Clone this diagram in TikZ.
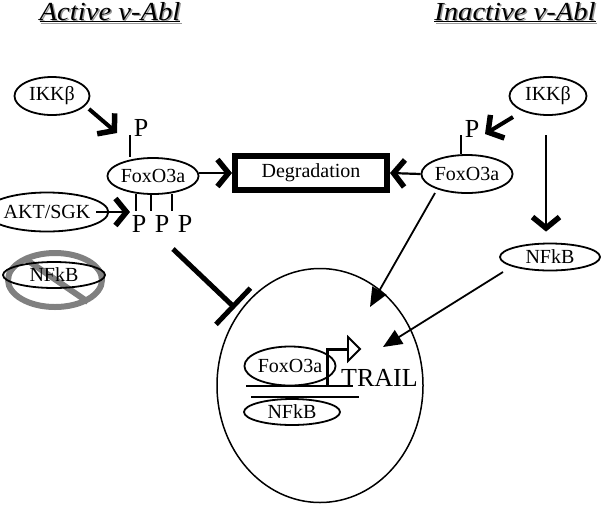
\documentclass[tikz,border=0pt]{standalone}
\usepackage{fontspec}
\setmainfont{Liberation Serif}
\usetikzlibrary{shapes.geometric,arrows.meta}
\begin{document}
\begin{tikzpicture}[x=1pt,y=-1pt,
 ell/.style={draw,ellipse,line width=1.8pt,inner sep=0pt,font=\fontsize{20}{20}\selectfont},
 lbl/.style={font=\fontsize{20}{20}\selectfont,inner sep=0pt},
 pl/.style={font=\fontsize{26}{26}\selectfont,inner sep=0pt,anchor=base},
 tick/.style={line width=2pt},
 title/.style={font=\fontsize{26}{26}\selectfont\itshape,inner sep=0pt,anchor=base,xscale=1.1},
 chev/.style={line width=2.2pt,-{Straight Barb[length=11pt,width=27pt,line width=5.5pt]}},
 tri/.style={line width=1.8pt,-{Triangle[length=19pt,width=16pt]}},
]
\useasboundingbox (0,0) rectangle (601,504);
% titles
\node[title,text=gray!80] at (111.5,21.5) {\underline{Active v-Abl}};
\node[title] (tA) at (110,20) {\underline{Active v-Abl}};
\node[title,text=gray!80] at (516.5,21.5) {\underline{Inactive v-Abl}};
\node[title] (tI) at (515,20) {\underline{Inactive v-Abl}};

% left side
\node[ell,minimum width=75,minimum height=38] (ikkL) at (52,96) {IKKβ};
\node[pl] (pL) at (141,136) {P};
\node[ell,minimum width=76,minimum height=36] (foxL) at (153,176) {FoxO3a};
\node[ell,minimum width=88,minimum height=39] (akt) at (47,212) {AKT/SGK};
\node[pl] (p1) at (139,232) {P};
\node[pl] (p2) at (162,232) {P};
\node[pl] (p3) at (185,232) {P};

\coordinate (ikkLa) at (89,109);
\coordinate (ikkLb) at (117,133);
\draw[chev,line width=4pt] (ikkLa) -- (ikkLb);
\coordinate (tkL) at (130,135);
\draw[tick] (tkL) -- (tkL |- foxL.north);
\foreach \x in {136,151,172}{\draw[tick] (\x,194) -- (\x,211);}
\coordinate (aktA) at (96,212);
\coordinate (aktB) at (130,212);
\draw[chev] (aktA) -- (aktB);

% crossed NFkB
\draw[gray,line width=6pt] (55,280) ellipse [x radius=47,y radius=27];
\draw[gray,line width=6pt] (24,258) -- (88,302);
\node[ell,minimum width=102,minimum height=26] (nfkbL) at (54,275) {NFkB};

% degradation
\node[draw,line width=6pt,minimum width=152,minimum height=34,lbl] (deg) at (311,173) {Degradation};
\coordinate (fxa) at (199,173);
\draw[chev] (fxa) -- (deg.west);

% right side
\node[ell,minimum width=77,minimum height=38] (ikkR) at (548,96) {IKKβ};
\node[pl] (pR) at (472,137) {P};
\node[ell,minimum width=78,minimum height=38] (foxR) at (467,174) {FoxO3a};
\node[ell,minimum width=100,minimum height=27] (nfkbR) at (550,257) {NFkB};
\coordinate (ikkRa) at (513,117);
\coordinate (ikkRb) at (485,134);
\draw[chev,line width=4pt] (ikkRa) -- (ikkRb);
\coordinate (tkR) at (461,135);
\draw[tick] (tkR) -- (tkR |- foxR.north);
\draw[chev] (foxR.west) -- (deg.east);
\coordinate (vA) at (546,135);
\draw[chev,shorten >=11pt] (vA) -- (vA |- nfkbR.north);

% nucleus
\draw[line width=1.5pt] (320,385.5) ellipse [x radius=103,y radius=117];
\coordinate (foxRo) at (435,193);
\coordinate (tipF) at (370,307);
\draw[tri] (foxRo) -- (tipF);
\coordinate (nfkbRo) at (503,272);
\coordinate (tipN) at (383,347);
\draw[tri] (nfkbRo) -- (tipN);

% inhibition
\coordinate (inA) at (173,249);
\coordinate (inB) at (235,308);
\draw[line width=5pt,-{Bar[width=50pt,line width=5pt]}] (inA) -- (inB);

% promoter
\node[ell,minimum width=71,minimum height=39] (foxN) at (290,366) {FoxO3a};
\node[ell,minimum width=96,minimum height=26] (nfkbN) at (292,412) {NFkB};
\draw[line width=2pt] (246,386) -- (353,386);
\draw[line width=2pt] (251,397) -- (359,397);
\draw[line width=3pt] (327,386) -- (327,349) -- (347,349);
\draw[line width=1.8pt,fill=white] (348,337) -- (360,349) -- (348,361) -- cycle;
\node[font=\fontsize{26}{26}\selectfont,inner sep=0pt,anchor=base west] (trail) at (341,386) {TRAIL};
\end{tikzpicture}
\end{document}
